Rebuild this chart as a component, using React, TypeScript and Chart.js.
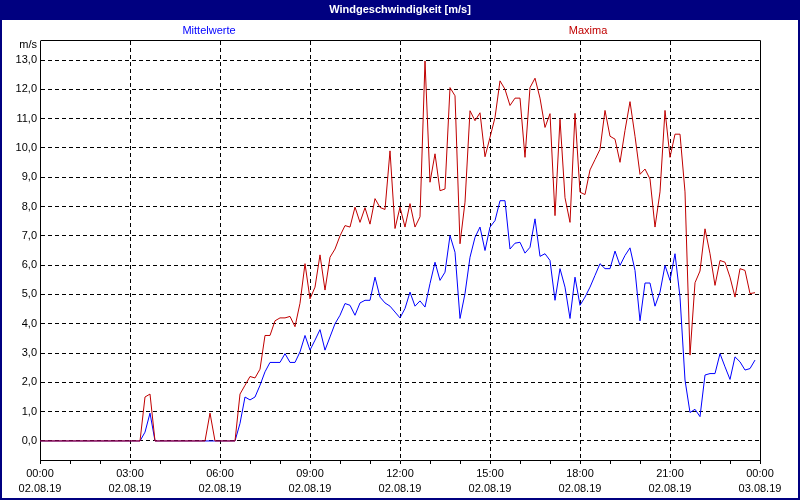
import React, { useEffect, useRef } from "react";
import { Chart, registerables } from "chart.js";

Chart.register(...registerables);

// 10-minute values, 02.08.19 00:00 .. 23:50
const maxima = [
  0, 0, 0, 0, 0, 0, 0, 0, 0, 0,
  0, 0, 0, 0, 0, 0, 0, 0, 0, 0,
  0, 1.5, 1.6, 0, 0, 0, 0, 0, 0, 0,
  0, 0, 0, 0, 0.95, 0, 0, 0, 0, 0,
  1.6, 1.9, 2.2, 2.15, 2.45, 3.6, 3.6, 4.1, 4.2, 4.2,
  4.25, 3.9, 4.7, 6.05, 4.85, 5.25, 6.35, 5.15, 6.27, 6.55,
  7.0, 7.35, 7.3, 7.98, 7.46, 7.96, 7.4, 8.27, 7.97, 7.9,
  9.9, 7.25, 7.98, 7.3, 8.1, 7.3, 7.65, 12.97, 8.83, 9.8,
  8.54, 8.6, 12.06, 11.78, 6.73, 8.15, 11.27, 10.93, 11.2, 9.7,
  10.36, 11.04, 12.29, 12.0, 11.45, 11.7, 11.7, 9.68, 12.06, 12.38,
  11.7, 10.7, 11.17, 7.69, 10.98, 8.3, 7.46, 11.18, 8.49, 8.41,
  9.25, 9.6, 9.95, 11.28, 10.4, 10.3, 9.51, 10.6, 11.58, 10.4,
  9.1, 9.28, 8.94, 7.3, 8.5, 11.28, 9.68, 10.47, 10.47, 8.5,
  2.93, 5.4, 5.8, 7.24, 6.39, 5.31, 6.16, 6.1, 5.59, 4.91,
  5.88, 5.82, 5.03, 5.06,
];

const mittelwerte = [
  0, 0, 0, 0, 0, 0, 0, 0, 0, 0,
  0, 0, 0, 0, 0, 0, 0, 0, 0, 0,
  0, 0.3, 0.95, 0, 0, 0, 0, 0, 0, 0,
  0, 0, 0, 0, 0, 0, 0, 0, 0, 0,
  0.6, 1.5, 1.4, 1.5, 1.9, 2.36, 2.68, 2.68, 2.68, 2.98,
  2.68, 2.68, 3.04, 3.6, 3.1, 3.44, 3.8, 3.1, 3.55, 4.0,
  4.29, 4.69, 4.63, 4.29, 4.71, 4.8, 4.8, 5.59, 4.91, 4.71,
  4.6, 4.4, 4.2, 4.52, 5.08, 4.6, 4.78, 4.57, 5.37, 6.1,
  5.48, 5.76, 7.01, 6.44, 4.18, 5.03, 6.27, 6.95, 7.3, 6.5,
  7.3, 7.52, 8.2, 8.2, 6.55, 6.75, 6.78, 6.41, 6.61, 7.58,
  6.3, 6.39, 6.16, 4.8, 5.88, 5.25, 4.18, 5.59, 4.63, 4.91,
  5.25, 5.65, 6.05, 5.88, 5.88, 6.48, 5.99, 6.33, 6.59, 5.82,
  4.1, 5.39, 5.39, 4.6, 5.08, 5.99, 5.48, 6.39, 4.91, 2.08,
  0.97, 1.08, 0.83, 2.25, 2.3, 2.3, 2.98, 2.53, 2.1, 2.87,
  2.7, 2.42, 2.47, 2.76,
];

const stepMinutes = 10;
const seriesNames = ["Mittelwerte", "Maxima"];
const chartTitle = "Windgeschwindigkeit [m/s]";
const unitLabel = "m/s";
const yTickValues = [0, 1, 2, 3, 4, 5, 6, 7, 8, 9, 10, 11, 12, 13];
const xTickTimes = ["00:00", "03:00", "06:00", "09:00", "12:00", "15:00", "18:00", "21:00", "00:00"];
const xTickDates = ["02.08.19", "02.08.19", "02.08.19", "02.08.19", "02.08.19", "02.08.19", "02.08.19", "02.08.19", "03.08.19"];

const NAVY = "#000080";
const RED = "#c00000";
const BLUE = "#0000ff";
const FONT = "'Liberation Sans', Arial, sans-serif";

const framePlugin = {
  id: "framePlugin",
  beforeDraw(chart: any) {
    const { ctx, width, height } = chart;
    ctx.save();
    ctx.fillStyle = "#ffffff";
    ctx.fillRect(0, 0, width, height);
    ctx.restore();
  },
  afterDraw(chart: any) {
    const { ctx, width, height, chartArea: a } = chart;
    ctx.save();
    // plot frame (top and right; left/bottom are the axis borders)
    ctx.strokeStyle = "#000";
    ctx.lineWidth = 1;
    ctx.setLineDash([]);
    ctx.beginPath();
    ctx.moveTo(Math.round(a.left) + 0.5, Math.round(a.top) - 0.5);
    ctx.lineTo(Math.round(a.right) + 0.5, Math.round(a.top) - 0.5);
    ctx.lineTo(Math.round(a.right) + 0.5, Math.round(a.bottom) + 0.5);
    ctx.stroke();
    // title bar
    ctx.fillStyle = NAVY;
    ctx.fillRect(0, 0, width, 20);
    ctx.fillStyle = "#fff";
    ctx.font = `bold 11px ${FONT}`;
    ctx.textAlign = "center";
    ctx.textBaseline = "middle";
    ctx.fillText(chartTitle, width / 2, 10);
    // legend texts
    ctx.font = `11px ${FONT}`;
    ctx.fillStyle = BLUE;
    ctx.fillText(seriesNames[0], 209, 31);
    ctx.fillStyle = RED;
    ctx.fillText(seriesNames[1], 588, 31);
    // unit
    ctx.fillStyle = "#000";
    ctx.textAlign = "right";
    ctx.fillText(unitLabel, 37, 45);
    // outer frame
    ctx.strokeStyle = NAVY;
    ctx.lineWidth = 2;
    ctx.strokeRect(1, 1, width - 2, height - 2);
    ctx.restore();
  },
};

export default function App() {
  const canvasRef = useRef<HTMLCanvasElement | null>(null);

  useEffect(() => {
    const canvas = canvasRef.current;
    if (!canvas) return;
    const toPoints = (arr: number[]) => arr.map((v, i) => ({ x: i * stepMinutes, y: v }));
    const chart = new Chart(canvas, {
      type: "line",
      data: {
        datasets: [
          {
            label: seriesNames[1],
            data: toPoints(maxima),
            borderColor: RED,
            borderWidth: 1,
            pointRadius: 0,
            tension: 0,
            fill: false,
          },
          {
            label: seriesNames[0],
            data: toPoints(mittelwerte),
            borderColor: BLUE,
            borderWidth: 1,
            pointRadius: 0,
            tension: 0,
            fill: false,
          },
        ],
      },
      options: {
        responsive: false,
        animation: false,
        devicePixelRatio: 1,
        layout: { padding: { left: 0, top: 41, right: 40, bottom: 0 } },
        plugins: {
          legend: { display: false },
          tooltip: { enabled: false },
          title: { display: false },
        },
        scales: {
          x: {
            type: "linear",
            min: 0,
            max: 1440,
            afterFit: (s: any) => {
              s.height = 40;
            },
            afterBuildTicks: (s: any) => {
              const t = [];
              for (let m = 0; m <= 1440; m += 60) t.push({ value: m });
              s.ticks = t;
            },
            ticks: {
              autoSkip: false,
              maxRotation: 0,
              padding: 2,
              color: "#000",
              font: { family: FONT, size: 11, lineHeight: 1.4 },
              callback: (v: any) => {
                const m = Number(v);
                if (m % 180 !== 0) return "";
                const k = m / 180;
                return [xTickTimes[k], xTickDates[k]];
              },
            },
            grid: {
              color: (c: any) =>
                c.tick && c.tick.value % 180 === 0 ? "#000" : "rgba(0,0,0,0)",
              tickColor: "#000",
              tickLength: 4,
              lineWidth: 1,
            },
            border: { display: true, color: "#000", width: 1, dash: [4, 3] },
          },
          y: {
            type: "linear",
            min: -0.65,
            max: 13.65,
            afterFit: (s: any) => {
              s.width = 40;
            },
            afterBuildTicks: (s: any) => {
              s.ticks = yTickValues.map((v) => ({ value: v }));
            },
            ticks: {
              padding: 3,
              color: "#000",
              font: { family: FONT, size: 11 },
              callback: (v: any) => Number(v).toFixed(1).replace(".", ","),
            },
            grid: {
              color: "#000",
              drawTicks: false,
              lineWidth: 1,
            },
            border: { display: true, color: "#000", width: 1, dash: [4, 3] },
          },
        },
      },
      plugins: [framePlugin],
    });
    return () => chart.destroy();
  }, []);

  return (
    <div style={{ position: "absolute", left: 0, top: 0, width: 800, height: 500 }}>
      <canvas ref={canvasRef} width={800} height={500} style={{ width: 800, height: 500, display: "block" }} />
    </div>
  );
}
